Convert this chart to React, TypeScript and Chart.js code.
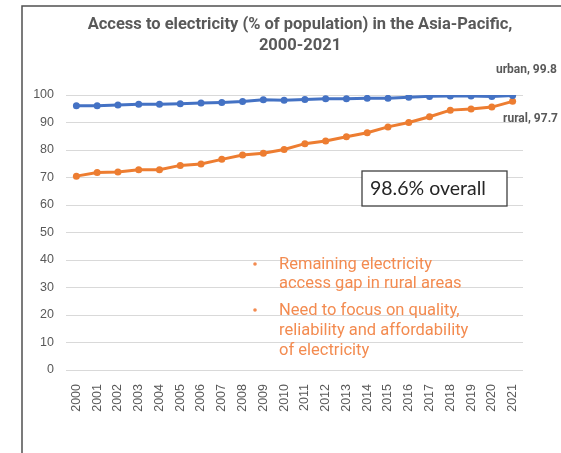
import React, { useEffect, useRef } from "react";
import { Chart, registerables } from "chart.js";

Chart.register(...registerables);

const years = [
  "2000", "2001", "2002", "2003", "2004", "2005", "2006", "2007", "2008", "2009", "2010",
  "2011", "2012", "2013", "2014", "2015", "2016", "2017", "2018", "2019", "2020", "2021",
];
const urban = [
  96.1, 96.1, 96.4, 96.6, 96.6, 96.85, 97.1, 97.3, 97.6, 98.3, 98.1,
  98.4, 98.6, 98.6, 98.8, 98.8, 99.2, 99.5, 99.6, 99.6, 99.5, 99.8,
];
const rural = [
  70.5, 71.8, 72.0, 72.8, 72.8, 74.4, 74.9, 76.6, 78.2, 78.8, 80.2,
  82.3, 83.3, 84.8, 86.3, 88.4, 90.0, 92.1, 94.5, 94.9, 95.6, 97.7,
];
const titleLines = ["Access to electricity (% of population) in the Asia-Pacific,", "2000-2021"];
const overallText = "98.6% overall";
const bullets = [
  ["Remaining electricity", "access gap in rural areas"],
  ["Need to focus on quality,", "reliability and affordability", "of electricity"],
];

const BLUE = "#4472c4";
const ORANGE = "#ed7d31";
const TEXT_ORANGE = "#f38b50";
const GRAY = "#595959";

const W = 561;
const H = 453;

const decorations = {
  id: "decorations",
  afterDraw(chart: Chart) {
    const ctx = chart.ctx;
    ctx.save();

    // outer frame (top and left edges)
    ctx.strokeStyle = "#505050";
    ctx.lineWidth = 1.5;
    ctx.beginPath();
    ctx.moveTo(W, 6);
    ctx.lineTo(22, 6);
    ctx.lineTo(22, H);
    ctx.stroke();

    // title
    ctx.fillStyle = GRAY;
    ctx.font = "bold 16.5px Roboto";
    ctx.textAlign = "center";
    ctx.textBaseline = "middle";
    ctx.fillText(titleLines[0], 300, 25);
    ctx.fillText(titleLines[1], 300, 46);

    // end-of-line labels
    const ys = chart.scales.y;
    const last = years.length - 1;
    ctx.font = "bold 12px Roboto";
    ctx.textAlign = "right";
    ctx.fillText(`urban, ${urban[last]}`, 557, ys.getPixelForValue(urban[last]) - 26);
    ctx.fillText(`rural, ${rural[last]}`, 558, ys.getPixelForValue(rural[last]) + 18);

    // overall box
    ctx.strokeStyle = "#404040";
    ctx.lineWidth = 1.3;
    ctx.fillStyle = "#ffffff";
    ctx.fillRect(362, 171, 145, 35);
    ctx.strokeRect(362, 171, 145, 35);
    ctx.fillStyle = "#262626";
    ctx.font = "19.5px Lato";
    ctx.textAlign = "left";
    ctx.fillText(overallText, 370, 189);

    // orange bullet notes
    ctx.fillStyle = TEXT_ORANGE;
    const rows = [[265, 284], [311, 331, 351]];
    bullets.forEach((lines, i) => {
      ctx.beginPath();
      ctx.arc(255, rows[i][0] - 1, 1.8, 0, Math.PI * 2);
      ctx.fill();
      ctx.font = "16.5px Roboto";
      lines.forEach((t, j) => ctx.fillText(t, 279, rows[i][j]));
    });

    ctx.restore();
  },
};

export default function App() {
  const ref = useRef<HTMLCanvasElement | null>(null);

  useEffect(() => {
    if (!ref.current) return;
    const chart = new Chart(ref.current, {
      type: "line",
      data: {
        labels: years,
        datasets: [
          {
            label: "urban",
            data: urban,
            borderColor: BLUE,
            backgroundColor: BLUE,
            borderWidth: 3,
            pointRadius: 3.5,
            pointBorderWidth: 0,
            tension: 0,
          },
          {
            label: "rural",
            data: rural,
            borderColor: ORANGE,
            backgroundColor: ORANGE,
            borderWidth: 3,
            pointRadius: 3.5,
            pointBorderWidth: 0,
            tension: 0,
          },
        ],
      },
      options: {
        responsive: false,
        animation: false,
        devicePixelRatio: 1,
        layout: { padding: { left: 0, right: 38, top: 95, bottom: 0 } },
        plugins: { legend: { display: false }, tooltip: { enabled: false }, title: { display: false } },
        scales: {
          x: {
            offset: true,
            grid: { display: false },
            border: { display: false },
            ticks: {
              color: GRAY,
              font: { family: "Liberation Sans", size: 12.5 },
              minRotation: 90,
              maxRotation: 90,
              autoSkip: false,
              padding: 6,
            },
            afterFit(scale: any) {
              scale.height = 83;
            },
          },
          y: {
            min: 0,
            max: 100,
            grid: { color: "#d9d9d9", lineWidth: 1, drawTicks: false },
            border: { display: false },
            ticks: {
              stepSize: 10,
              color: GRAY,
              font: { family: "Liberation Sans", size: 12.5 },
              padding: 12,
            },
            afterFit(scale: any) {
              scale.width = 66;
            },
          },
        },
      },
      plugins: [decorations],
    });
    return () => chart.destroy();
  }, []);

  return (
    <div style={{ position: "fixed", left: 0, top: 0, width: W, height: H, background: "#fff" }}>
      <canvas ref={ref} width={W} height={H} style={{ width: W, height: H, display: "block" }} />
    </div>
  );
}
